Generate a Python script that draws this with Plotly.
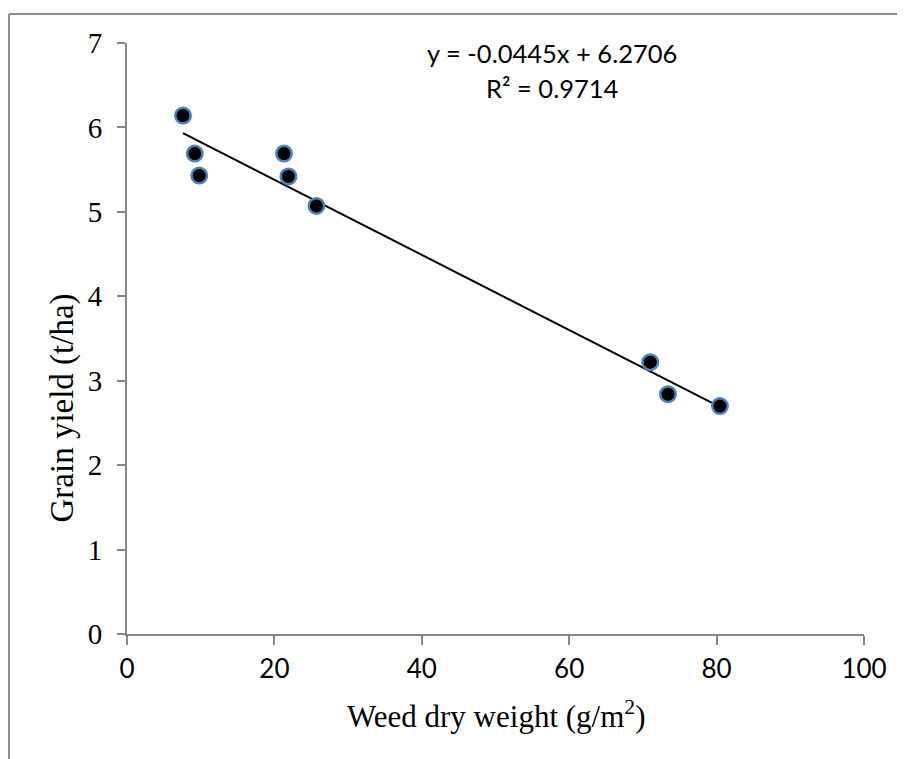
import numpy as np
import plotly.graph_objects as go

# Data
weed_dry_weight = [7.6, 9.2, 9.8, 21.3, 21.9, 25.7, 71.0, 73.4, 80.45]
grain_yield = [6.14, 5.69, 5.43, 5.69, 5.42, 5.07, 3.22, 2.84, 2.70]

# Linear trendline as printed on the chart
slope = -0.0445
intercept = 6.2706
r_squared = 0.9714

x_ticks = [0, 20, 40, 60, 80, 100]
y_ticks = [0, 1, 2, 3, 4, 5, 6, 7]

xs = np.array([min(weed_dry_weight), max(weed_dry_weight)])
ys = slope * xs + intercept

fig = go.Figure()
fig.add_trace(go.Scatter(
    x=xs, y=ys, mode="lines",
    line=dict(color="black", width=2),
    hoverinfo="skip", showlegend=False,
))
fig.add_trace(go.Scatter(
    x=weed_dry_weight, y=grain_yield, mode="markers",
    marker=dict(size=15.5, color="black", line=dict(color="#4F81BD", width=2.5)),
    showlegend=False,
))

axis_gray = "#868686"
fig.update_xaxes(
    range=[0, 100], tickvals=x_ticks, showgrid=False, zeroline=False,
    showline=True, linecolor=axis_gray, linewidth=2,
    ticks="outside", ticklen=9, tickwidth=2, tickcolor=axis_gray,
    tickfont=dict(family="Lato", size=26, color="black"),
    ticklabelstandoff=2,
)
fig.update_yaxes(
    range=[0, 7], tickvals=y_ticks, showgrid=False, zeroline=False,
    showline=True, linecolor=axis_gray, linewidth=2,
    ticks="outside", ticklen=8, tickwidth=2, tickcolor=axis_gray,
    tickfont=dict(family="Liberation Serif", size=29, color="black"),
    ticklabelstandoff=9,
)

fig.update_layout(
    width=897, height=751,
    margin=dict(l=119, r=41, t=35, b=125),
    plot_bgcolor="white", paper_bgcolor="white",
    annotations=[
        dict(text=f"y = {slope}x + {intercept}", x=0.5767, y=1.0, xref="paper", yref="paper",
             xanchor="center", yanchor="middle", showarrow=False, yshift=-10,
             font=dict(family="Lato", size=25.5, color="black")),
        dict(text=f"R² = {r_squared}", x=0.5767, y=1.0, xref="paper", yref="paper",
             xanchor="center", yanchor="middle", showarrow=False, yshift=-45,
             font=dict(family="Lato", size=25.5, color="black")),
        dict(text="Weed dry weight (g/m<sup>2</sup>)", x=0.5, y=0, xref="paper", yref="paper",
             xanchor="center", yanchor="middle", showarrow=False, yshift=-80,
             font=dict(family="Liberation Serif", size=31, color="black")),
        dict(text="Grain yield (t/ha)", x=0, y=0.5, xref="paper", yref="paper",
             xanchor="center", yanchor="middle", showarrow=False, xshift=-65, yshift=-70,
             textangle=-90,
             font=dict(family="Liberation Serif", size=33, color="black")),
    ],
    shapes=[
        dict(type="line", xref="paper", yref="paper", x0=-118/737, x1=(905-127)/737,
             y0=(634-14)/591, y1=(634-14)/591, line=dict(color="#8c8c8c", width=2)),
        dict(type="line", xref="paper", yref="paper", x0=-118/737, x1=-118/737,
             y0=(634-14)/591, y1=(634-760)/591, line=dict(color="#8c8c8c", width=2)),
    ],
)

fig.write_html("out.html")
